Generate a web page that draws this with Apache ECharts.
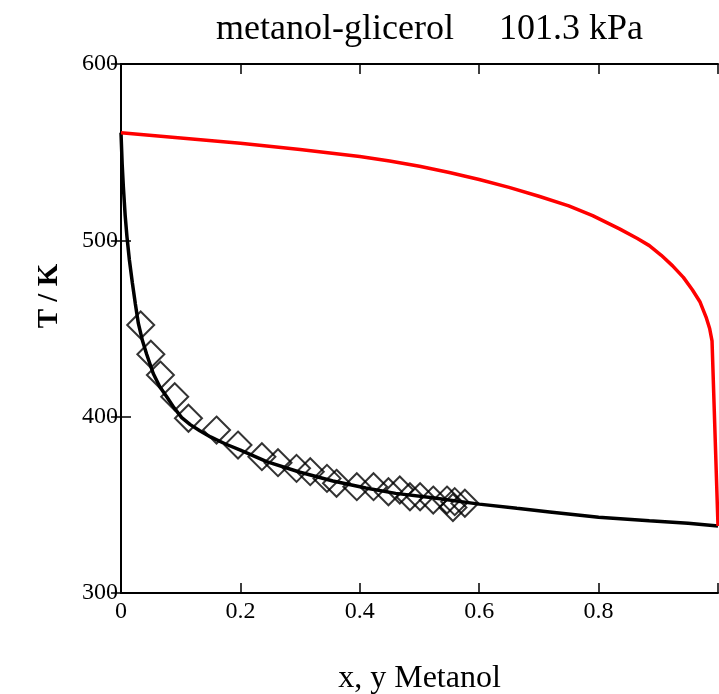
<!DOCTYPE html>
<html>
<head>
<meta charset="utf-8">
<script src="https://cdn.jsdelivr.net/npm/echarts@6/dist/echarts.min.js"></script>
<style>html,body{margin:0;padding:0;background:#fff}#c{width:719px;height:694px}</style>
</head>
<body>
<div id="c"></div>
<script>
// Tick labels
var xTicks = [0, 0.2, 0.4, 0.6, 0.8];
var yTicks = [300, 400, 500, 600];

// Liquid (bubble) curve: x, T
var bubbleX = [0, 0.002, 0.004, 0.007, 0.01, 0.014, 0.019, 0.024, 0.029, 0.036, 0.043, 0.054, 0.065, 0.0766, 0.089, 0.1017, 0.116, 0.132, 0.15, 0.175, 0.2, 0.244, 0.3, 0.355, 0.41, 0.46, 0.522, 0.6, 0.663, 0.718, 0.8, 0.885, 0.95, 1.0];
var bubbleT = [561, 543, 530, 514, 502, 489, 476, 464, 453, 443, 435.4, 424.5, 417, 411.3, 405, 399.5, 395.5, 392, 388.5, 384.5, 381, 374.5, 368.5, 363.5, 359.5, 356.5, 354, 350.4, 348, 346, 343, 341, 339.5, 338];

// Vapour (dew) curve: y, T
var dewY = [0, 0.1, 0.2, 0.3, 0.4, 0.45, 0.5, 0.55, 0.6, 0.65, 0.7, 0.75, 0.79, 0.835, 0.865, 0.885, 0.905, 0.924, 0.942, 0.957, 0.97, 0.98, 0.986, 0.99, 1.0];
var dewT = [561, 558, 555, 551.5, 547.5, 545, 542, 538.5, 534.5, 530, 525, 519.5, 514, 506.5, 501, 497, 491.5, 485.5, 479, 472, 465, 456.5, 450, 443, 338];

// Experimental points
var expX = [0.033, 0.050, 0.066, 0.090, 0.113, 0.160, 0.196, 0.236, 0.263, 0.294, 0.317, 0.345, 0.361, 0.395, 0.423, 0.448, 0.467, 0.484, 0.501, 0.523, 0.546, 0.556, 0.559, 0.576];
var expT = [452, 435.4, 423.6, 411.3, 399.1, 392.4, 383.9, 377.3, 373.9, 370.7, 368.8, 365.0, 362.2, 360.3, 360.3, 357.4, 358.4, 354.6, 354.6, 352.7, 352.7, 348.5, 351.8, 350.9];

function pairs(a, b) { return a.map(function (v, i) { return [v, b[i]]; }); }

var serif = '"Liberation Serif", "DejaVu Serif", serif';
var chart = echarts.init(document.getElementById('c'), null, {renderer: 'canvas'});
var axLine = {show: true, lineStyle: {color: '#000', width: 2}};
var axTick = {show: true, inside: true, length: 10, lineStyle: {color: '#000', width: 1.5}};

chart.setOption({
  animation: false,
  backgroundColor: '#fff',
  title: {
    text: 'metanol-glicerol     101.3 kPa',
    left: 211, top: 7,
    textStyle: {fontFamily: serif, fontSize: 36, fontWeight: 'normal', color: '#000'}
  },
  graphic: [{
    type: 'text', x: 50, y: 296, rotation: Math.PI / 2,
    style: {text: 'T / K', font: 'bold 29px ' + serif, fill: '#000', align: 'center', verticalAlign: 'middle'}
  }],
  grid: {left: 121, right: 1, top: 64, bottom: 101, containLabel: false, outerBoundsMode: 'none'},
  xAxis: [{
    type: 'value', min: 0, max: 1, interval: 0.2, position: 'bottom',
    name: 'x, y Metanol', nameLocation: 'middle', nameGap: 70,
    nameTextStyle: {fontFamily: serif, fontSize: 32, color: '#000'},
    axisLine: axLine, axisTick: axTick, splitLine: {show: false},
    axisLabel: {fontFamily: serif, fontSize: 24, color: '#000', margin: 7,
      formatter: function (v) { return xTicks.indexOf(Math.round(v * 10) / 10) >= 0 ? String(Math.round(v * 10) / 10) : ''; }}
  }, {
    type: 'value', min: 0, max: 1, interval: 0.2, position: 'top',
    axisLine: axLine, axisTick: axTick, splitLine: {show: false}, axisLabel: {show: false}
  }],
  yAxis: [{
    type: 'value', min: 300, max: 600, interval: 100, position: 'left',
    axisLine: axLine, axisTick: axTick, splitLine: {show: false},
    axisLabel: {fontFamily: serif, fontSize: 24, color: '#000', margin: 3,
      formatter: function (v) { return yTicks.indexOf(v) >= 0 ? String(v) : ''; }}
  }, {
    type: 'value', min: 300, max: 600, interval: 100, position: 'right',
    axisLine: axLine, axisTick: axTick, splitLine: {show: false}, axisLabel: {show: false}
  }],
  series: [{
    type: 'scatter', data: pairs(expX, expT), symbol: 'diamond', symbolSize: [27, 27],
    itemStyle: {color: 'rgba(0,0,0,0)', borderColor: '#000', borderWidth: 2}, z: 2
  }, {
    type: 'line', data: pairs(bubbleX, bubbleT), showSymbol: false, smooth: false,
    lineStyle: {color: '#000', width: 3.5}, z: 3
  }, {
    type: 'line', data: pairs(dewY, dewT), showSymbol: false, smooth: false,
    lineStyle: {color: '#ff0000', width: 3.5}, z: 3
  }]
});
</script>
</body>
</html>
